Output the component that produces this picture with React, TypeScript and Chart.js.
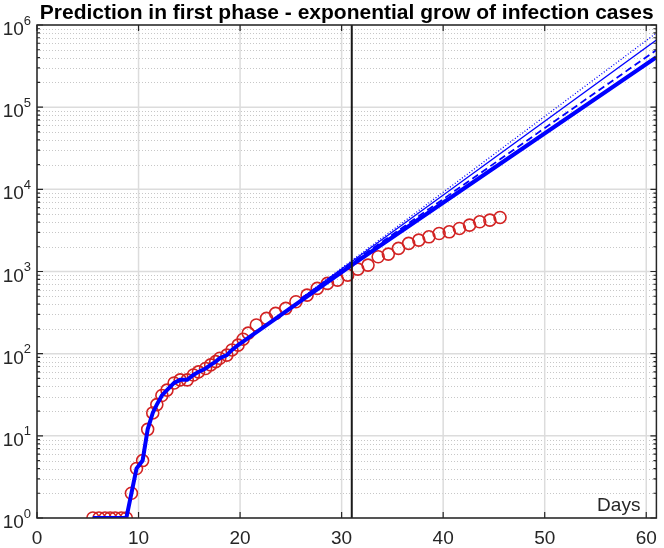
import React, { useEffect, useRef } from "react";
import { Chart, registerables } from "chart.js";

Chart.register(...registerables);

const TITLE = "Prediction in first phase - exponential grow of infection cases";
const X_LABEL = "Days";
const X_MIN = 0;
const X_MAX = 61;
const X_TICKS = [0, 10, 20, 30, 40, 50, 60];
const Y_EXPONENTS = [0, 1, 2, 3, 4, 5, 6];
const PHASE_END_DAY = 31;

// observed infection cases (red circles)
const dataDays = [
  5.5, 6.1, 6.7, 7.2, 7.7, 8.3, 8.8,
  9.3, 9.8, 10.4, 10.9, 11.4, 11.8, 12.3, 12.8, 13.5,
  14.1, 14.8, 15.4, 15.9, 16.6, 17.1, 17.6, 18.0, 18.7, 19.2, 19.8,
  20.3, 20.8, 21.6, 22.6, 23.5, 24.5, 25.5, 26.6, 27.6, 28.6, 29.6,
  30.6, 31.6, 32.6, 33.6, 34.6, 35.6, 36.6, 37.6, 38.6, 39.6,
  40.6, 41.6, 42.6, 43.6, 44.6, 45.6,
];
const dataCases = [
  1, 1, 1, 1, 1, 1, 1,
  2, 4, 5, 12, 19, 24, 31, 36, 44,
  48, 48, 55, 60, 66, 73, 80, 88, 96, 111, 127,
  150, 178, 223, 269, 309, 356, 428, 516, 623, 716, 786,
  904, 1069, 1197, 1510, 1629, 1910, 2198, 2410, 2643, 2904,
  3040, 3342, 3665, 4025, 4218, 4550,
];

// thick blue model line: follows data up to this many points, then the fitted exponential
const modelFollowCount = 27;
const modelTailDays = [31, 61];
const modelTailCases = [1200, 405000];

// thin fitted lines (start/end)
const fitDays = [26, 61];
const fitDotted = [470, 800000];
const fitSolid = [470, 655000];
const fitDashed = [470, 495000];

const phaseLineCases = [1, 1e6];

const FONT = '"Liberation Sans", Arial, Helvetica, sans-serif';
const AXIS_COLOR = "#262626";

const toXY = (xs: number[], ys: number[]) => xs.map((x, i) => ({ x, y: ys[i] }));

const matlabAxes = {
  id: "matlabAxes",
  beforeDatasetsDraw(chart: any) {
    const { ctx, chartArea: a, scales } = chart;
    const x = scales.x;
    const y = scales.y;
    ctx.save();
    // minor dotted grid
    ctx.strokeStyle = "rgba(0,0,0,0.22)";
    ctx.lineWidth = 1;
    ctx.setLineDash([1, 2]);
    for (let e = 0; e < 6; e++) {
      for (let m = 2; m <= 9; m++) {
        const py = Math.round(y.getPixelForValue(m * Math.pow(10, e))) + 0.5;
        ctx.beginPath();
        ctx.moveTo(a.left, py);
        ctx.lineTo(a.right, py);
        ctx.stroke();
      }
    }
    ctx.setLineDash([]);
    ctx.strokeStyle = "#dcdcdc";
    ctx.lineWidth = 1.5;
    for (const e of Y_EXPONENTS) {
      const py = y.getPixelForValue(Math.pow(10, e));
      ctx.beginPath();
      ctx.moveTo(a.left, py);
      ctx.lineTo(a.right, py);
      ctx.stroke();
    }
    for (const v of X_TICKS) {
      const px = x.getPixelForValue(v);
      ctx.beginPath();
      ctx.moveTo(px, a.top);
      ctx.lineTo(px, a.bottom);
      ctx.stroke();
    }
    ctx.restore();
  },
  afterDraw(chart: any) {
    const { ctx, chartArea: a, scales } = chart;
    const x = scales.x;
    const y = scales.y;
    ctx.save();
    ctx.strokeStyle = AXIS_COLOR;
    ctx.fillStyle = AXIS_COLOR;
    // box
    ctx.lineWidth = 1.5;
    ctx.strokeRect(a.left, a.top, a.right - a.left, a.bottom - a.top);
    // x ticks inward
    ctx.lineWidth = 1.2;
    for (const v of X_TICKS) {
      const px = x.getPixelForValue(v);
      ctx.beginPath();
      ctx.moveTo(px, a.bottom);
      ctx.lineTo(px, a.bottom - 6);
      ctx.moveTo(px, a.top);
      ctx.lineTo(px, a.top + 6);
      ctx.stroke();
    }
    // y ticks inward (major + minor)
    for (let e = 0; e <= 6; e++) {
      for (let m = 1; m <= 9; m++) {
        if (e === 6 && m > 1) break;
        const py = y.getPixelForValue(m * Math.pow(10, e));
        const len = m === 1 ? 6 : 3;
        ctx.beginPath();
        ctx.moveTo(a.left, py);
        ctx.lineTo(a.left + len, py);
        ctx.moveTo(a.right, py);
        ctx.lineTo(a.right - len, py);
        ctx.stroke();
      }
    }
    // x tick labels
    ctx.font = `19px ${FONT}`;
    ctx.textAlign = "center";
    ctx.textBaseline = "alphabetic";
    for (const v of X_TICKS) {
      ctx.fillText(String(v), x.getPixelForValue(v), 544);
    }
    // y tick labels 10^e
    for (const e of Y_EXPONENTS) {
      const py = y.getPixelForValue(Math.pow(10, e));
      ctx.font = `13px ${FONT}`;
      ctx.textAlign = "right";
      const expW = ctx.measureText(String(e)).width;
      const right = a.left - 6;
      ctx.fillText(String(e), right, py - 0.5);
      ctx.font = `19px ${FONT}`;
      ctx.fillText("10", right - expW, py + 10);
    }
    // x label inside axes
    ctx.font = `19px ${FONT}`;
    ctx.textAlign = "right";
    ctx.fillText(X_LABEL, a.right - 16, a.bottom - 7);
    // title
    ctx.fillStyle = "#000";
    ctx.font = `bold 21px ${FONT}`;
    ctx.textAlign = "center";
    ctx.fillText(TITLE, (a.left + a.right) / 2, 19);
    ctx.restore();
  },
};

export default function App() {
  const ref = useRef<HTMLCanvasElement | null>(null);
  useEffect(() => {
    document.body.style.margin = "0";
    const canvas = ref.current;
    if (!canvas) return;
    const modelDays = [...dataDays.slice(0, modelFollowCount), ...modelTailDays];
    const modelCases = [...dataCases.slice(0, modelFollowCount), ...modelTailCases];
    const chart = new Chart(canvas, {
      type: "line",
      data: {
        datasets: [
          {
            label: "phase end",
            data: toXY([PHASE_END_DAY, PHASE_END_DAY], phaseLineCases),
            borderColor: "#1a1a1a",
            borderWidth: 2,
            pointRadius: 0,
            order: 0,
          },
          {
            label: "model",
            data: toXY(modelDays, modelCases),
            borderColor: "#0000ff",
            borderWidth: 4,
            pointRadius: 0,
            order: 1,
          },
          {
            label: "fit",
            data: toXY(fitDays, fitSolid),
            borderColor: "#0000ff",
            borderWidth: 1.3,
            pointRadius: 0,
            order: 2,
          },
          {
            label: "fit dashed",
            data: toXY(fitDays, fitDashed),
            borderColor: "#0000ff",
            borderWidth: 1.8,
            borderDash: [7, 4],
            pointRadius: 0,
            order: 2,
          },
          {
            label: "fit dotted",
            data: toXY(fitDays, fitDotted),
            borderColor: "#0000ff",
            borderWidth: 1.3,
            borderDash: [1, 2],
            pointRadius: 0,
            order: 2,
          },
          {
            label: "cases",
            data: toXY(dataDays, dataCases),
            showLine: false,
            borderColor: "rgb(210,35,35)",
            backgroundColor: "rgba(0,0,0,0)",
            pointStyle: "circle",
            pointRadius: 6,
            pointBorderWidth: 1.6,
            order: 3,
          },
        ],
      },
      options: {
        animation: false,
        responsive: false,
        devicePixelRatio: 1,
        layout: { padding: { left: 0, right: 2, top: 25, bottom: 0 } },
        plugins: { legend: { display: false }, title: { display: false }, tooltip: { enabled: false } },
        scales: {
          x: {
            type: "linear",
            min: X_MIN,
            max: X_MAX,
            grid: { display: false },
            border: { display: false },
            ticks: { display: false },
            afterFit: (s: any) => {
              s.height = 30;
            },
          },
          y: {
            type: "logarithmic",
            min: 1,
            max: 1e6,
            grid: { display: false },
            border: { display: false },
            ticks: { display: false },
            afterFit: (s: any) => {
              s.width = 37;
            },
          },
        },
      },
      plugins: [matlabAxes],
    });
    return () => chart.destroy();
  }, []);
  return (
    <div style={{ position: "absolute", left: 0, top: 0, width: 664, height: 548, background: "#fff" }}>
      <canvas ref={ref} width={664} height={548} />
    </div>
  );
}
